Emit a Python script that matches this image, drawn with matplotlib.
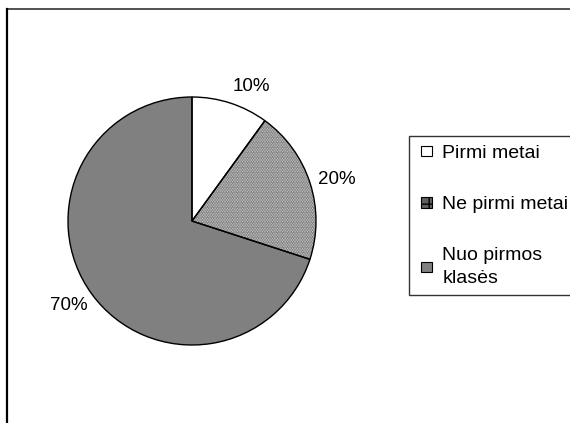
import matplotlib
matplotlib.use("Agg")
import matplotlib.pyplot as plt
from matplotlib.patches import Patch, Rectangle
from matplotlib.lines import Line2D
from matplotlib.legend_handler import HandlerPatch
import numpy as np

labels = ["Pirmi metai", "Ne pirmi metai", "Nuo pirmos\nklasės"]
values = [10, 20, 70]
pct_labels = ["10%", "20%", "70%"]

plt.rcParams['font.family'] = ['Liberation Sans', 'DejaVu Sans']
FS = 13.5
LFS = 14

W, H = 570, 423
fig = plt.figure(figsize=(W / 100, H / 100), dpi=100)
fig.patch.set_facecolor('white')

# pie axes
cx, cy, r = 192, 221, 124
ax = fig.add_axes([(cx - r) / W, 1 - (cy + r) / H, 2 * r / W, 2 * r / H])
ax.axis('off')

faces = ['white', 'white', '#808080']
wedges, _ = ax.pie(values, startangle=90, counterclock=False, colors=faces,
                   radius=1, center=(0, 0), frame=False,
                   wedgeprops=dict(linewidth=0))
wedges[1].set_hatch('..........')
wedges[1].set_edgecolor('#505050')
wedges[1].set_linewidth(0)
ax.pie(values, startangle=90, counterclock=False, colors=['none'] * 3,
       radius=1, center=(0, 0), frame=False,
       wedgeprops=dict(linewidth=1.0, edgecolor='black', fill=False))
ax.set_xlim(-1, 1)
ax.set_ylim(-1, 1)
ax.set_aspect('equal')

label_r = [1.07, 1.07, 1.04]
align = [('left', 'bottom'), ('left', 'center'), ('right', 'top')]
cum = np.cumsum([0] + values)
tot = sum(values)
for i, t in enumerate(pct_labels):
    mid = (cum[i] + cum[i + 1]) / 2 / tot * 2 * np.pi
    ang = np.pi / 2 - mid
    ax.text(label_r[i] * np.cos(ang), label_r[i] * np.sin(ang), t,
            ha=align[i][0], va=align[i][1], fontsize=FS, clip_on=False)


def small_square(legend, orig_handle, xdescent, ydescent, width, height, fontsize):
    s = 7.5
    return Rectangle((-xdescent + width - s, -ydescent + (height - s) / 2), s, s)


handles = [Patch(facecolor='white', edgecolor='black', linewidth=0.8),
           Patch(facecolor='#606060', edgecolor='black', hatch='++', linewidth=0.8),
           Patch(facecolor='#808080', edgecolor='black', linewidth=0.8)]
leg = fig.legend(handles, labels, loc='upper left',
                 bbox_to_anchor=(409 / W, 1 - 136 / H), fontsize=LFS,
                 frameon=True, fancybox=False, shadow=False,
                 handlelength=0.74, handleheight=0.7, handletextpad=0.55,
                 labelspacing=1.75, borderpad=0.42, borderaxespad=0,
                 handler_map={Patch: HandlerPatch(patch_func=small_square)})
for t in leg.get_texts():
    t.set_linespacing(1.4)
leg.get_frame().set_edgecolor('black')
leg.get_frame().set_linewidth(1.0)

# figure border (top and left)
fig.add_artist(Line2D([7 / W, 1], [1 - 9.5 / H, 1 - 9.5 / H], color='#333333', lw=1.2,
                      transform=fig.transFigure))
fig.add_artist(Line2D([7 / W, 7 / W], [0, 1 - 9.5 / H], color='black', lw=1.6,
                      transform=fig.transFigure))

fig.savefig('out.png', dpi=100)
